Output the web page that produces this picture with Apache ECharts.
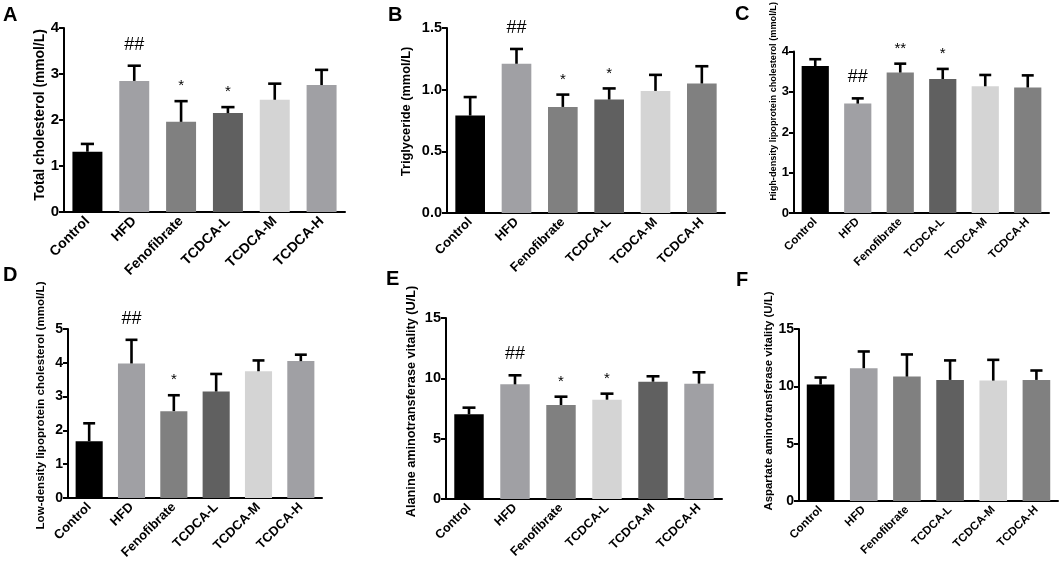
<!DOCTYPE html>
<html>
<head>
<meta charset="utf-8">
<script src="https://cdn.jsdelivr.net/npm/echarts@6/dist/echarts.min.js"></script>
<style>
  html, body { margin: 0; padding: 0; background: #fff; }
  #chart { width: 1059px; height: 566px; }
</style>
</head>
<body>
<div id="chart"></div>
<script>
// groups on the x axis
var categories = ['Control', 'HFD', 'Fenofibrate', 'TCDCA-L', 'TCDCA-M', 'TCDCA-H'];

// means and SD (upper error bar)
var tcMean  = [1.31, 2.85, 1.96, 2.15, 2.44, 2.76];
var tcSd    = [0.17, 0.33, 0.45, 0.13, 0.35, 0.33];
var tgMean  = [0.79, 1.21, 0.86, 0.92, 0.99, 1.05];
var tgSd    = [0.15, 0.12, 0.10, 0.09, 0.13, 0.14];
var hdlMean = [3.64, 2.71, 3.48, 3.32, 3.14, 3.11];
var hdlSd   = [0.17, 0.13, 0.22, 0.25, 0.28, 0.30];
var ldlMean = [1.68, 3.98, 2.57, 3.15, 3.75, 4.05];
var ldlSd   = [0.53, 0.70, 0.47, 0.52, 0.32, 0.19];
var altMean = [7.02, 9.50, 7.79, 8.23, 9.72, 9.56];
var altSd   = [0.55, 0.75, 0.69, 0.50, 0.45, 0.94];
var astMean = [10.15, 11.58, 10.85, 10.56, 10.50, 10.56];
var astSd   = [0.62, 1.46, 1.93, 1.70, 1.81, 0.82];

// significance marks
var tcMarks  = ['', '##', '*', '*', '', ''];
var tgMarks  = ['', '##', '*', '*', '', ''];
var hdlMarks = ['', '##', '**', '*', '', ''];
var ldlMarks = ['', '##', '*', '', '', ''];
var altMarks = ['', '##', '*', '*', '', ''];
var astMarks = ['', '', '', '', '', ''];

// y axis ticks: min, max, step
var tcTicks  = [0, 4, 1];
var tgTicks  = [0, 1.5, 0.5];
var hdlTicks = [0, 4, 1];
var ldlTicks = [0, 5, 1];
var altTicks = [0, 15, 5];
var astTicks = [0, 15, 5];

// bar fills
var K = '#000000', G1 = '#a0a0a4', G2 = '#808080', G3 = '#606060', G4 = '#d4d4d4';

var FONT = '"Liberation Sans", Arial, sans-serif';

var panels = [
  { letter: 'A', mean: tcMean, sd: tcSd, marks: tcMarks, ticks: tcTicks, dec: 0,
    name: 'Total cholesterol (mmol/L)', colors: [K, G1, G2, G3, G4, G1],
    grid: { left: 64, top: 28, width: 281, height: 184 }, lt: [3, 5],
    tickFs: 15, xFs: 14, nameFs: 13.8, nameGap: 17, shift: 5 },
  { letter: 'B', mean: tgMean, sd: tgSd, marks: tgMarks, ticks: tgTicks, dec: 1,
    name: 'Triglyceride (mmol/L)', colors: [K, G1, G2, G3, G4, G2],
    grid: { left: 447, top: 28, width: 278, height: 185 }, lt: [388, 5],
    tickFs: 14.5, xFs: 13, nameFs: 12.8, nameGap: 34, shift: 9 },
  { letter: 'C', mean: hdlMean, sd: hdlSd, marks: hdlMarks, ticks: hdlTicks, dec: 0,
    name: 'High-density lipoprotein cholesterol (mmol/L)', colors: [K, G1, G2, G3, G4, G2],
    grid: { left: 794, top: 48, width: 255, height: 165 }, lt: [735, 4],
    tickFs: 13, xFs: 11.5, nameFs: 9.2, nameGap: 16, shift: 31 },
  { letter: 'D', mean: ldlMean, sd: ldlSd, marks: ldlMarks, ticks: ldlTicks, dec: 0,
    name: 'Low-density lipoprotein cholesterol (mmol/L)', colors: [K, G1, G2, G3, G4, G1],
    grid: { left: 68, top: 329, width: 254, height: 169 }, lt: [3, 265],
    tickFs: 14, xFs: 13, nameFs: 11.6, nameGap: 21, shift: 8 },
  { letter: 'E', mean: altMean, sd: altSd, marks: altMarks, ticks: altTicks, dec: 0,
    name: 'Alanine aminotransferase vitality (U/L)', colors: [K, G1, G2, G4, G3, G1],
    grid: { left: 446, top: 318, width: 276, height: 181 }, lt: [386, 269],
    tickFs: 14.5, xFs: 12.5, nameFs: 12.7, nameGap: 28, shift: 7 },
  { letter: 'F', mean: astMean, sd: astSd, marks: astMarks, ticks: astTicks, dec: 0,
    name: 'Aspartate aminotransferase vitality (U/L)', colors: [K, G1, G2, G3, G4, G2],
    grid: { left: 799, top: 329, width: 259, height: 172 }, lt: [736, 270],
    tickFs: 14, xFs: 11.5, nameFs: 11.4, nameGap: 24, shift: 14 }
];

function errorBars(marks) {
  return function (params, api) {
    var m = api.value(1), s = api.value(2);
    var p0 = api.coord([api.value(0), m]);
    var p1 = api.coord([api.value(0), m + s]);
    var hw = api.size([1, 0])[0] * 0.64 * 0.22;
    var st = { stroke: '#000', lineWidth: 2.6 };
    var kids = [
      { type: 'line', shape: { x1: p0[0], y1: p0[1], x2: p1[0], y2: p1[1] }, style: st },
      { type: 'line', shape: { x1: p1[0] - hw, y1: p1[1], x2: p1[0] + hw, y2: p1[1] }, style: st }
    ];
    var mk = marks[params.dataIndex];
    if (mk) {
      var isHash = mk.charAt(0) === '#';
      kids.push({
        type: 'text',
        style: {
          text: mk, x: p1[0], y: p1[1] - (isHash ? 21 : 15),
          align: 'center', verticalAlign: 'middle',
          font: (isHash ? '18px ' : '15px ') + FONT, fill: '#000'
        }
      });
    }
    return { type: 'group', children: kids };
  };
}

var option = {
  animation: false,
  backgroundColor: '#fff',
  title: [], grid: [], xAxis: [], yAxis: [], series: []
};

panels.forEach(function (p, i) {
  option.title.push({
    text: p.letter, left: p.lt[0], top: p.lt[1], padding: 0,
    textStyle: { fontFamily: FONT, fontWeight: 'bold', fontSize: 20, color: '#000' }
  });
  option.grid.push(p.grid);
  option.xAxis.push({
    type: 'category', gridIndex: i, data: categories,
    axisLine: { lineStyle: { color: '#000', width: 2 } },
    axisTick: { alignWithLabel: true, length: 5, lineStyle: { color: '#000', width: 2 } },
    axisLabel: { rotate: 45, margin: 7, color: '#000', fontFamily: FONT, fontWeight: 'bold', fontSize: p.xFs, interval: 0 }
  });
  option.yAxis.push({
    type: 'value', gridIndex: i, min: p.ticks[0], max: p.ticks[1], interval: p.ticks[2],
    name: p.name, nameLocation: 'middle', nameGap: p.nameGap,
    nameTextStyle: { fontFamily: FONT, fontWeight: 'bold', fontSize: p.nameFs, color: '#000', padding: [0, 0, 0, p.shift * 2] },
    splitLine: { show: false },
    axisLine: { show: true, lineStyle: { color: '#000', width: 2 } },
    axisTick: { show: true, length: 5, lineStyle: { color: '#000', width: 2 } },
    axisLabel: {
      margin: 5, color: '#000', fontFamily: FONT, fontWeight: 'bold', fontSize: p.tickFs,
      formatter: function (v) { return v.toFixed(p.dec); }
    }
  });
  option.series.push({
    type: 'bar', xAxisIndex: i, yAxisIndex: i, barCategoryGap: '36%',
    data: p.mean.map(function (v, j) { return { value: v, itemStyle: { color: p.colors[j] } }; })
  });
  option.series.push({
    type: 'custom', xAxisIndex: i, yAxisIndex: i, clip: false, z: 5,
    renderItem: errorBars(p.marks),
    encode: { x: 0, y: 1 },
    data: p.mean.map(function (v, j) { return [j, v, p.sd[j]]; })
  });
});

var chart = echarts.init(document.getElementById('chart'), null, { renderer: 'canvas' });
chart.setOption(option);
</script>
</body>
</html>
